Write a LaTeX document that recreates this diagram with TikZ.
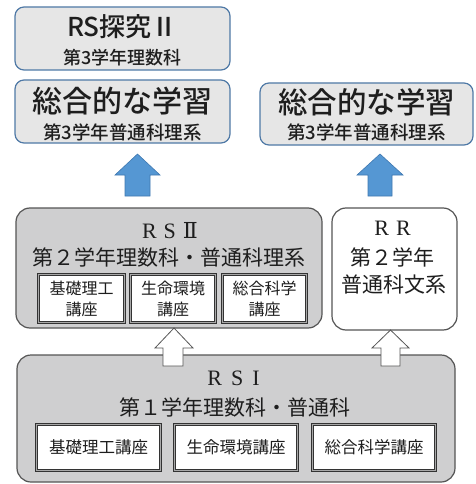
\documentclass[tikz,border=0pt]{standalone}
\usepackage{fontspec}
\newfontfamily\jp{Noto Sans CJK JP}
\newfontfamily\jpm{Noto Sans CJK JP Medium}
\newfontfamily\ser{Liberation Serif}
\newfontfamily\serb{DejaVu Serif}
\definecolor{topfill}{HTML}{E6E6E6}
\definecolor{topedge}{HTML}{4F79A6}
\definecolor{grayfill}{HTML}{CFCFD0}
\definecolor{grayedge}{HTML}{555555}
\definecolor{arrowblue}{HTML}{5597D3}
\definecolor{arrowedge}{HTML}{3F78B0}
\definecolor{textcol}{HTML}{1E1E1E}
\definecolor{courseedge}{HTML}{333333}
\definecolor{coursegap}{HTML}{A8A8A8}
\begin{document}
\begin{tikzpicture}[x=1pt,y=-1pt,
  topbox/.style={draw=topedge, fill=topfill, line width=1.2pt, rounded corners=9pt, inner sep=0pt},
  graybox/.style={draw=grayedge, fill=grayfill, line width=1.2pt, rounded corners=14pt, inner sep=0pt},
  whitebox/.style={draw=grayedge, fill=white, line width=1.2pt, rounded corners=14pt, inner sep=0pt},
  course/.style={draw=courseedge, double=coursegap, double distance=1.4pt, line width=0.8pt, fill=white, inner sep=0pt},
  bluearrow/.style={fill=arrowblue, draw=arrowedge, line width=0.6pt},
  whitearrow/.style={fill=white, draw=grayedge, line width=0.8pt},
  txt/.style={inner sep=0pt, text=textcol}
]
\useasboundingbox (0,0) rectangle (475,484);

% top boxes
\node[topbox, minimum width=215pt, minimum height=63pt] (rs3) at (122.5,38.5) {};
\node[txt, font={\jpm\fontsize{26}{26}\selectfont}] (rs3a) at (122.5,27) {RS探究Ⅱ};
\node[txt, font={\jpm\fontsize{18}{18}\selectfont}] (rs3b) at (122.5,57.5) {第3学年理数科};

\node[topbox, minimum width=215pt, minimum height=63pt] (sg1) at (122.5,111.5) {};
\node[txt, font={\jpm\fontsize{30}{30}\selectfont}] (sg1a) at (122.5,101) {総合的な学習};
\node[txt, font={\jpm\fontsize{18.5}{18.5}\selectfont}] (sg1b) at (122.5,132.5) {第3学年普通科理系};

\node[topbox, minimum width=213pt, minimum height=62pt] (sg2) at (366.5,114) {};
\node[txt, font={\jpm\fontsize{29.5}{29.5}\selectfont}] (sg2a) at (366.5,102.5) {総合的な学習};
\node[txt, font={\jpm\fontsize{18.5}{18.5}\selectfont}] (sg2b) at (366.5,132.5) {第3学年普通科理系};

% blue arrows
\draw[bluearrow] (137.5,154) -- (160,175) -- (150,175) -- (150,196) -- (125,196) -- (125,175) -- (115,175) -- cycle;
\draw[bluearrow] (380,154) -- (403,175) -- (392,175) -- (392,196) -- (368,196) -- (368,175) -- (357,175) -- cycle;

% RS II
\node[graybox, minimum width=306pt, minimum height=120pt] (rs2) at (169,268) {};
\node[txt, font={\ser\fontsize{22}{22}\selectfont}] (rs2a) at (170,231) {R\hspace{7pt}S\hspace{7pt}{\serb Ⅱ}};
\node[txt, font={\jp\fontsize{21}{21}\selectfont}] (rs2b) at (169,257) {第２学年理数科・普通科理系};
\node[course, minimum width=86pt, minimum height=48pt, align=center, font={\jp\fontsize{16}{21}\selectfont}, text=textcol] (c21) at (81.5,298.5) {基礎理工\\講座};
\node[course, minimum width=85pt, minimum height=48pt, align=center, font={\jp\fontsize{16}{21}\selectfont}, text=textcol] (c22) at (173,298.5) {生命環境\\講座};
\node[course, minimum width=84pt, minimum height=48pt, align=center, font={\jp\fontsize{16}{21}\selectfont}, text=textcol] (c23) at (264.5,298.5) {総合科学\\講座};

% RR
\node[whitebox, minimum width=125pt, minimum height=122pt] (rr) at (394.5,269) {};
\node[txt, font={\ser\fontsize{22}{22}\selectfont}] (rra) at (392.5,228) {R\hspace{7pt}R};
\node[txt, font={\jp\fontsize{21}{21}\selectfont}] (rrb) at (392.5,257) {第２学年};
\node[txt, font={\jp\fontsize{21}{21}\selectfont}] (rrc) at (394,285) {普通科文系};

% RS I
\node[graybox, minimum width=438pt, minimum height=127pt] (rs1) at (236,418.5) {};
\node[txt, font={\ser\fontsize{22}{22}\selectfont}] (rs1a) at (233.5,378) {R\hspace{9pt}S\hspace{9pt}I};
\node[txt, font={\jp\fontsize{21}{21}\selectfont}] (rs1b) at (235,407) {第１学年理数科・普通科};
\node[course, minimum width=124pt, minimum height=46pt, font={\jp\fontsize{16.5}{16.5}\selectfont}, text=textcol] (c11) at (98.5,447.5) {基礎理工講座};
\node[course, minimum width=123pt, minimum height=46pt, font={\jp\fontsize{16.5}{16.5}\selectfont}, text=textcol] (c12) at (236,447.5) {生命環境講座};
\node[course, minimum width=123pt, minimum height=46pt, font={\jp\fontsize{16.5}{16.5}\selectfont}, text=textcol] (c13) at (374,447.5) {総合科学講座};

% white arrows
\draw[whitearrow] (174,328) -- (193,348) -- (183,348) -- (183,366) -- (163,366) -- (163,348) -- (155,348) -- cycle;
\draw[whitearrow] (390.5,330) -- (409,348) -- (400,348) -- (400,366) -- (381,366) -- (381,348) -- (372,348) -- cycle;
\end{tikzpicture}
\end{document}
